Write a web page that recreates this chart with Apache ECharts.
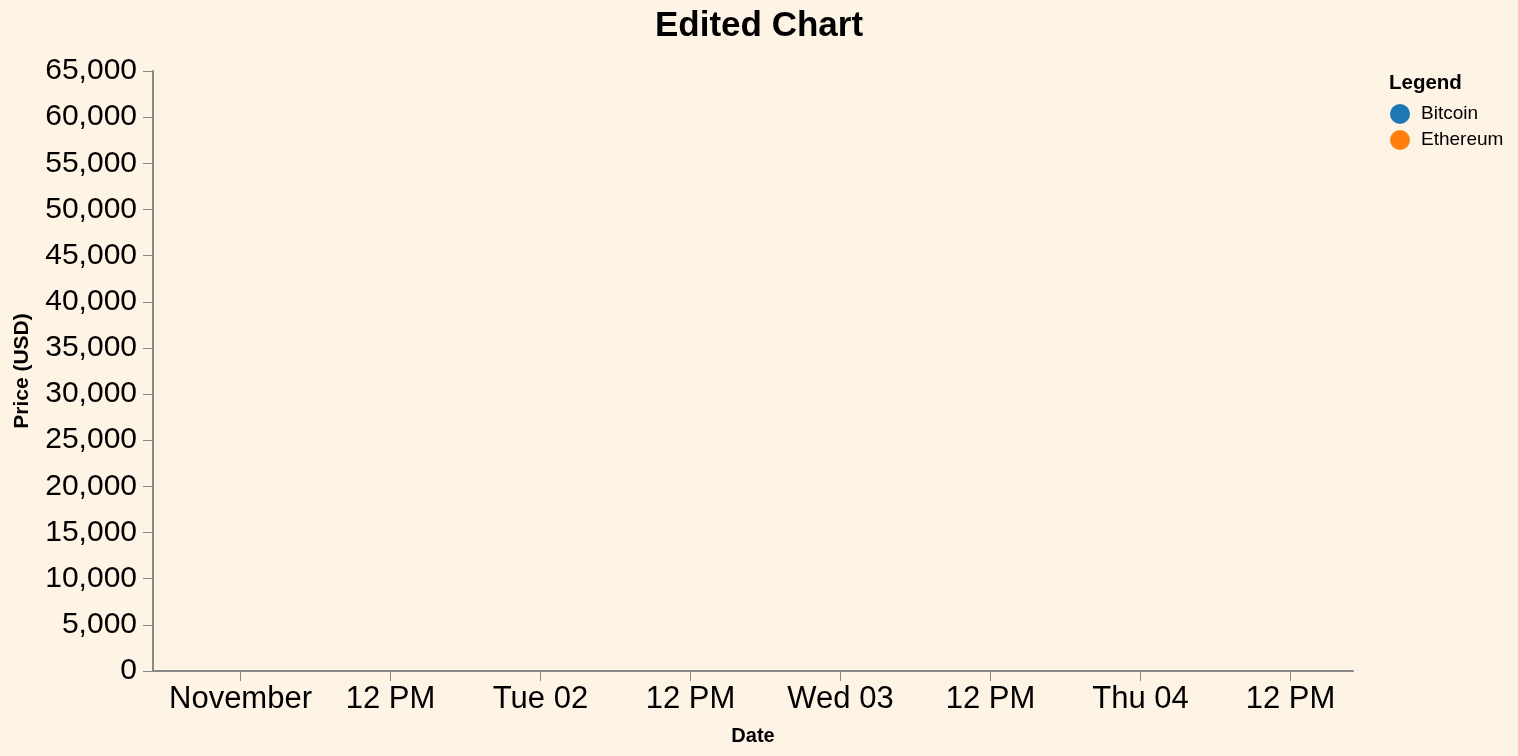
<!DOCTYPE html>
<html>
<head>
<meta charset="utf-8">
<script src="https://cdn.jsdelivr.net/npm/echarts@6/dist/echarts.min.js"></script>
<style>
html,body{margin:0;padding:0;background:#fdf4e6;}
#chart{width:1518px;height:756px;}
</style>
</head>
<body>
<div id="chart"></div>
<script>
// ---- data ----
const seriesNames = ['Bitcoin', 'Ethereum'];
const seriesColors = ['#1f77b4', '#ff7f0e'];
const bitcoinValues = [];   // the reference chart shows no data marks
const ethereumValues = [];
const xDomain = [[2021, 9, 31, 17], [2021, 10, 4, 17]];
const xTickTimes = [[2021,10,1,0],[2021,10,1,12],[2021,10,2,0],[2021,10,2,12],[2021,10,3,0],[2021,10,3,12],[2021,10,4,0],[2021,10,4,12]];
const xTickLabels = ['November', '12 PM', 'Tue 02', '12 PM', 'Wed 03', '12 PM', 'Thu 04', '12 PM'];
const yMin = 0, yMax = 65000, yStep = 5000;

const toTs = a => new Date(a[0], a[1], a[2], a[3]).getTime();
const tickTs = xTickTimes.map(toTs);
const FONT = '"Liberation Sans", Arial, Helvetica, sans-serif';
const AXIS_COLOR = '#888888';

const chart = echarts.init(document.getElementById('chart'), null, {renderer: 'canvas'});
chart.setOption({
  backgroundColor: '#fdf4e6',
  animation: false,
  textStyle: {fontFamily: FONT},
  title: [
    {text: 'Edited Chart', left: 'center', top: 4,
     textStyle: {fontFamily: FONT, fontSize: 35, fontWeight: 'bold', color: '#000'}},
    {text: 'Legend', left: 1384, top: 68,
     textStyle: {fontFamily: FONT, fontSize: 20.5, fontWeight: 'bold', color: '#000'}}
  ],
  legend: {
    orient: 'vertical', left: 1390, top: 104, padding: 0,
    icon: 'circle', itemWidth: 20, itemHeight: 20, itemGap: 6,
    data: seriesNames,
    textStyle: {fontFamily: FONT, fontSize: 19, color: '#000', padding: [0, 0, 0, 6]}
  },
  grid: {left: 153, right: 165, top: 71, bottom: 85, containLabel: false, outerBoundsMode: 'none'},
  xAxis: {
    type: 'value',
    min: toTs(xDomain[0]), max: toTs(xDomain[1]),
    name: 'Date', nameLocation: 'middle', nameGap: 55,
    nameTextStyle: {fontFamily: FONT, fontSize: 20, fontWeight: 'bold', color: '#000'},
    axisLine: {show: true, lineStyle: {color: AXIS_COLOR, width: 2}},
    axisTick: {show: true, length: 10, customValues: tickTs, lineStyle: {color: AXIS_COLOR, width: 1}},
    axisLabel: {
      customValues: tickTs, margin: 13,
      fontFamily: FONT, fontSize: 31, color: '#000',
      formatter: v => { const i = tickTs.indexOf(v); return i >= 0 ? xTickLabels[i] : ''; }
    },
    splitLine: {show: false}
  },
  yAxis: {
    type: 'value', min: yMin, max: yMax, interval: yStep,
    name: 'Price (USD)', nameLocation: 'middle', nameGap: 120, nameRotate: 90,
    nameTextStyle: {fontFamily: FONT, fontSize: 21, fontWeight: 'bold', color: '#000'},
    axisLine: {show: true, lineStyle: {color: AXIS_COLOR, width: 2}},
    axisTick: {show: true, length: 10, lineStyle: {color: AXIS_COLOR, width: 1}},
    axisLabel: {margin: 16, fontFamily: FONT, fontSize: 30, color: '#000'},
    splitLine: {show: false}
  },
  series: [
    {name: seriesNames[0], type: 'line', data: bitcoinValues, color: seriesColors[0], showSymbol: false},
    {name: seriesNames[1], type: 'line', data: ethereumValues, color: seriesColors[1], showSymbol: false}
  ]
});
</script>
</body>
</html>
